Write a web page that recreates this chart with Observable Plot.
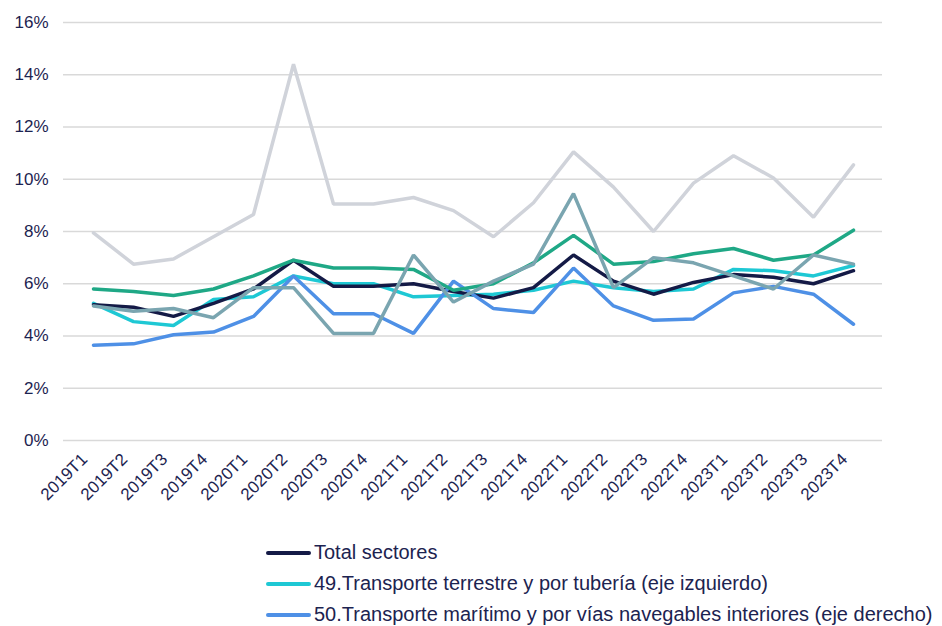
<!DOCTYPE html>
<html><head><meta charset="utf-8">
<script src="https://cdn.jsdelivr.net/npm/d3@7"></script>
<script src="https://cdn.jsdelivr.net/npm/@observablehq/plot@0.6"></script>
<style>
body{margin:0;background:#fff;font-family:"Liberation Sans",Arial,sans-serif;color:#1c2350;overflow:hidden}
#legend{padding-left:266px;margin-top:7px}
.row{display:flex;align-items:center;height:31px;font-size:20px;white-space:nowrap}
.sw{width:45px;height:4px;border-radius:2px;margin-right:3px;flex:none}
</style></head><body><div id="chart"></div><div id="legend"></div>
<script>
const quarters = ["2019T1","2019T2","2019T3","2019T4","2020T1","2020T2","2020T3","2020T4","2021T1","2021T2","2021T3","2021T4","2022T1","2022T2","2022T3","2022T4","2023T1","2023T2","2023T3","2023T4"];
const yTicks = [0,2,4,6,8,10,12,14,16];

const totalSectores = [5.2,5.1,4.75,5.25,5.8,6.9,5.9,5.9,6.0,5.7,5.45,5.85,7.1,6.1,5.6,6.05,6.35,6.25,6.0,6.5];
const terrestre49   = [5.25,4.55,4.4,5.4,5.5,6.3,6.0,6.0,5.5,5.55,5.6,5.75,6.1,5.85,5.7,5.8,6.55,6.5,6.3,6.7];
const maritimo50    = [3.65,3.7,4.05,4.15,4.75,6.3,4.85,4.85,4.1,6.1,5.05,4.9,6.6,5.15,4.6,4.65,5.65,5.9,5.6,4.45];
const serieGris     = [7.95,6.75,6.95,7.8,8.65,14.4,9.05,9.05,9.3,8.8,7.8,9.1,11.05,9.7,8.0,9.85,10.9,10.05,8.55,10.55];
const serieVerde    = [5.8,5.7,5.55,5.8,6.3,6.9,6.6,6.6,6.55,5.75,6.0,6.8,7.85,6.75,6.85,7.15,7.35,6.9,7.1,8.05];
const serieGrisAzul = [5.15,4.95,5.05,4.7,5.85,5.85,4.1,4.1,7.1,5.3,6.1,6.75,9.45,5.85,7.0,6.8,6.3,5.8,7.1,6.75];

// Only the first three series appear in the (cropped) legend of the reference
const legendNames = [
  "Total sectores",
  "49.Transporte terrestre y por tubería (eje izquierdo)",
  "50.Transporte marítimo y por vías navegables interiores (eje derecho)"
];
const seriesValues = [totalSectores, terrestre49, maritimo50, serieGris, serieVerde, serieGrisAzul];
const seriesColors = ["#141a46","#1ec8d4","#4e90e6","#d0d3da","#1fa886","#7aa5b0"];
const drawOrder = [3,1,0,2,4,5];

const marks = [
  Plot.ruleY(yTicks, {stroke:"#d9d9d9", strokeWidth:1.5}),
  Plot.axisY({ticks:yTicks, tickFormat:d=>d+"%", tickSize:0, tickPadding:15, fontSize:17, label:null}),
  Plot.axisX({tickRotate:-45, tickSize:0, tickPadding:10, fontSize:17, dx:-9, dy:6, label:null})
];
for (const i of drawOrder) {
  const vals = seriesValues[i];
  const rows = quarters.map((q,j)=>({q, v:vals[j]}));
  marks.push(Plot.lineY(rows, {x:"q", y:"v", stroke:seriesColors[i], strokeWidth:3.5, strokeLinejoin:"miter", strokeLinecap:"round"}));
}

const chart = Plot.plot({
  width:942, height:530,
  marginLeft:63, marginRight:60, marginTop:22, marginBottom:90,
  x:{type:"point", domain:quarters, padding:0.5},
  y:{domain:[0,16]},
  style:{fontFamily:'"Liberation Sans",Arial,sans-serif', color:"#1c2350", background:"transparent"},
  marks
});
document.getElementById("chart").appendChild(chart);

const legend = document.getElementById("legend");
legendNames.forEach((name,i)=>{
  const row = document.createElement("div");
  row.className = "row";
  const sw = document.createElement("span");
  sw.className = "sw"; sw.style.background = seriesColors[i];
  const t = document.createElement("span");
  t.textContent = name;
  row.appendChild(sw); row.appendChild(t);
  legend.appendChild(row);
});
</script></body></html>
